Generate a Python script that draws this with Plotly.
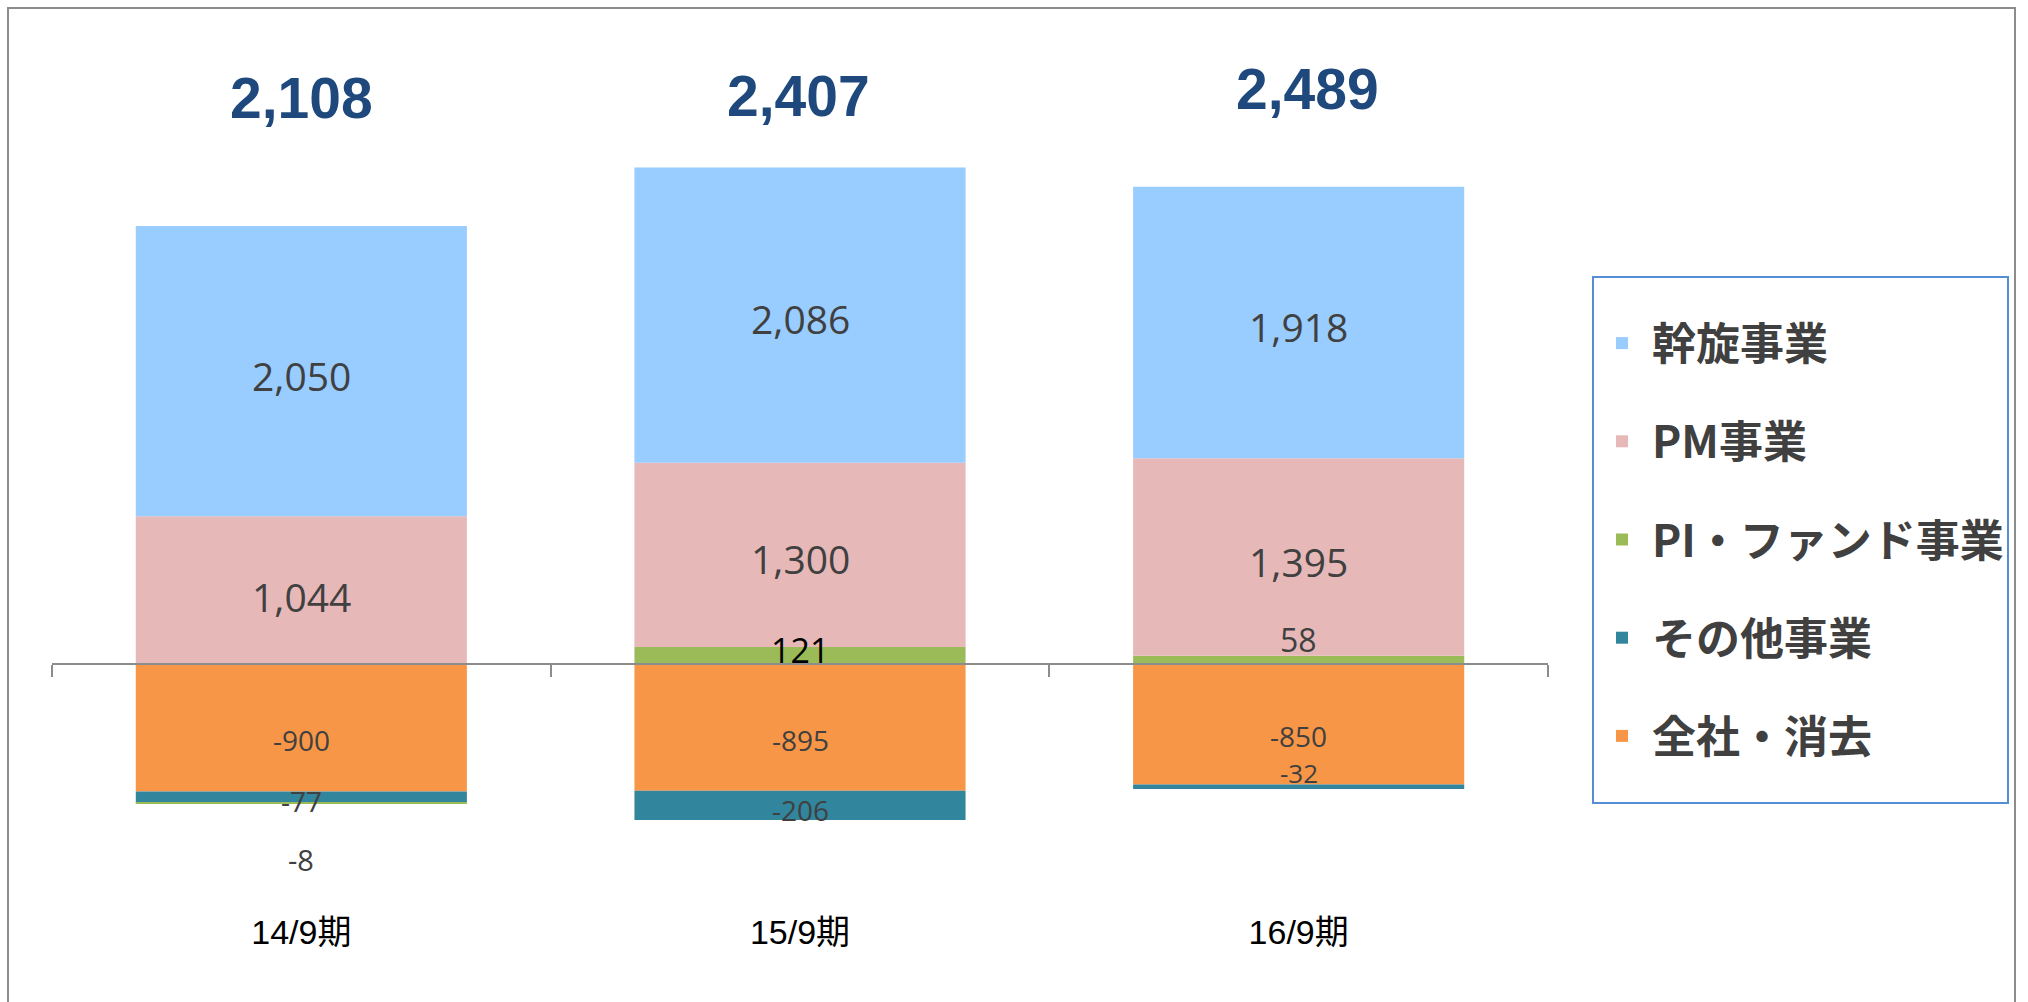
import plotly.graph_objects as go

# ---------------- data ----------------
CATEGORIES = ["14/9期", "15/9期", "16/9期"]
SERIES = ["全社・消去", "その他事業", "PI・ファンド事業", "PM事業", "幹旋事業"]
ZENSHA = [-900, -895, -850]
SONOTA = [-77, -206, -32]
PI_FUND = [-8, 121, 58]
PM = [1044, 1300, 1395]
ASSEN = [2050, 2086, 1918]
TOTALS = [2108, 2407, 2489]
VALUES = [ZENSHA, SONOTA, PI_FUND, PM, ASSEN]

# ---------------- styles ----------------
COLORS = ["#F79646", "#31859C", "#9BBB59", "#E6B9B8", "#99CCFF"]
LEGEND_RANK = [5, 4, 3, 2, 1]
Y_RANGE = [-1751, 4407]
# label nudges in px (positive = downwards), per series then per category
LABEL_DOWN = [[12, 13, 12], [4, 5, -14], [57, -5, -20], [6, 4, 4], [4, 3, 4]]
LABEL_SIZE = [[28, 28, 28], [28, 28, 26], [29, 34, 32], [39, 39, 39], [39, 39, 39]]
LABEL_COLOR = [["#404040"] * 3, ["#404040"] * 3, ["#404040", "#000000", "#404040"],
               ["#404040"] * 3, ["#404040"] * 3]
TOTAL_UP = [69, 71, 78]
TOTAL_RIGHT = [0, -2, 9]

W, H = 2028, 1002
ML, MR, MT, MB = 52, 480, 40, 90
PW, PH = W - ML - MR, H - MT - MB


def px_x(px):
    return (px - ML) / PW


def px_y(px):
    return (H - MB - px) / PH


fig = go.Figure()
for name, vals, col, rank in zip(SERIES, VALUES, COLORS, LEGEND_RANK):
    fig.add_trace(go.Bar(
        x=CATEGORIES, y=vals, name=name, legendgroup=name, legendrank=rank,
        marker=dict(color=col, line=dict(width=0)),
        hoverinfo="x+y+name",
    ))

annotations = []
pos_base = [0.0] * len(CATEGORIES)
neg_base = [0.0] * len(CATEGORIES)
for s, vals in enumerate(VALUES):
    for i, v in enumerate(vals):
        if v >= 0:
            c = pos_base[i] + v / 2
            pos_base[i] += v
        else:
            c = neg_base[i] + v / 2
            neg_base[i] += v
        annotations.append(dict(
            x=CATEGORIES[i], y=c, xref="x", yref="y", text=f"{v:,}",
            showarrow=False, xanchor="center", yanchor="middle",
            yshift=-LABEL_DOWN[s][i],
            font=dict(family="Open Sans, Noto Sans CJK JP", size=LABEL_SIZE[s][i],
                      color=LABEL_COLOR[s][i]),
        ))

top = max(pos_base)
for i, t in enumerate(TOTALS):
    annotations.append(dict(
        x=CATEGORIES[i], y=top, xref="x", yref="y", text=f"{t:,}",
        showarrow=False, xanchor="center", yanchor="middle",
        yshift=TOTAL_UP[i], xshift=TOTAL_RIGHT[i],
        font=dict(family="Liberation Sans, Arial", size=57, color="#1F497D", weight="bold"),
    ))

zero_pos = (0 - Y_RANGE[0]) / (Y_RANGE[1] - Y_RANGE[0])

fig.update_layout(
    width=W, height=H,
    margin=dict(l=ML, r=MR, t=MT, b=MB, autoexpand=False),
    paper_bgcolor="white", plot_bgcolor="white",
    barmode="relative", bargap=0.336,
    showlegend=True,
    legend=dict(
        x=px_x(1592), y=px_y(308), xanchor="left", yanchor="top",
        traceorder="grouped", tracegroupgap=38,
        borderwidth=0, bgcolor="rgba(0,0,0,0)",
        itemwidth=50,
        font=dict(family="Noto Sans CJK JP", size=44, color="#404040", weight="bold"),
    ),
    xaxis=dict(
        type="category", categoryorder="array", categoryarray=CATEGORIES,
        range=[-0.5, 2.5], anchor="free", position=zero_pos,
        showline=True, linecolor="#8C8C8C", linewidth=2,
        ticks="outside", tickson="boundaries", ticklen=12, tickwidth=2, tickcolor="#8C8C8C",
        showgrid=False, zeroline=False,
        tickfont=dict(family="Liberation Sans, Noto Sans CJK JP", size=34, color="#000000"),
        ticklabelstandoff=238,
    ),
    yaxis=dict(range=Y_RANGE, visible=False, showgrid=False, zeroline=False),
    annotations=annotations,
    shapes=[
        dict(type="rect", xref="paper", yref="paper",
             x0=px_x(8), x1=px_x(2015), y0=px_y(1015), y1=px_y(8),
             line=dict(color="#8C8C8C", width=2), fillcolor="rgba(0,0,0,0)", layer="below"),
        dict(type="rect", xref="paper", yref="paper",
             x0=px_x(1593), x1=px_x(2008), y0=px_y(803), y1=px_y(277),
             line=dict(color="#558ED5", width=2), fillcolor="rgba(0,0,0,0)", layer="below"),
    ],
)

fig.write_html("out.html", config={"displayModeBar": False},
               post_script="document.body.style.margin='0px';")
